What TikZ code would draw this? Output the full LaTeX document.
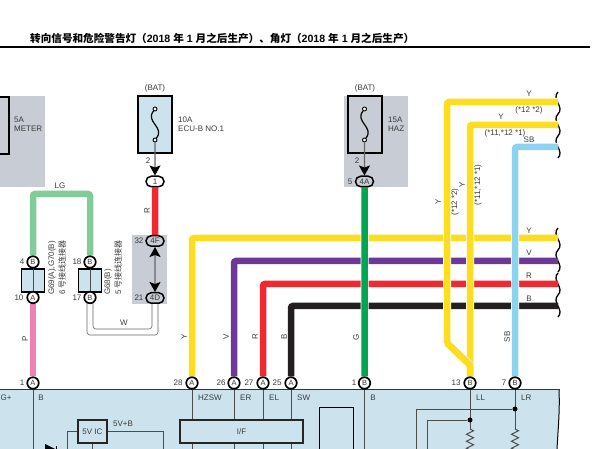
\documentclass[tikz,border=0pt]{standalone}
\usepackage{fontspec}
\usepackage{xcolor}
\usepackage{tikz}
\usetikzlibrary{arrows.meta,shapes.misc,decorations.pathmorphing}
\setmainfont{Liberation Sans}
\newfontfamily\cjk{Noto Sans CJK SC}
\definecolor{panelblue}{HTML}{CCE3EE}
\definecolor{boxgray}{HTML}{C8CCD4}
\definecolor{wireY}{HTML}{FCDD20}
\definecolor{wireV}{HTML}{6C3A96}
\definecolor{wireR}{HTML}{EE2A30}
\definecolor{wireB}{HTML}{231F20}
\definecolor{wireG}{HTML}{00A651}
\definecolor{wireP}{HTML}{EE82B0}
\definecolor{wireLG}{HTML}{82CC9A}
\definecolor{wireSB}{HTML}{8CD3F0}
\definecolor{inkgray}{HTML}{3A3A3A}
\tikzstyle{pin}=[fill=white, draw=black, shape=circle, line width=1.7pt, minimum size=11.5pt, inner sep=0pt, font=\fontsize{7.5}{8}\selectfont, text=inkgray]
\tikzstyle{pill}=[fill=white, draw=black, shape=rounded rectangle, line width=1.5pt, minimum width=18pt, minimum height=10.5pt, inner sep=0pt, font=\fontsize{8}{8}\selectfont, text=inkgray]
\tikzstyle{gray pill}=[pill, fill=boxgray]
\tikzstyle{label}=[font=\fontsize{8}{9}\selectfont, text=inkgray, inner sep=0pt]
\tikzstyle{left label}=[label, anchor=west, align=left]
\tikzstyle{up label}=[label, rotate=90]
\tikzstyle{fuse}=[draw=black, line width=1.7pt, minimum width=34pt, minimum height=57pt, inner sep=0pt]
\tikzstyle{fuse end}=[fill=white, draw=black, shape=circle, line width=0.9pt, minimum size=4pt, inner sep=0pt]
\tikzstyle{fuse wire}=[-, draw=black, line width=1.2pt]
\tikzstyle{joint}=[fill=black, shape=circle, minimum size=5pt, inner sep=0pt]
\tikzstyle{splice}=[fill=panelblue, draw=black, line width=1.7pt, minimum width=23pt, minimum height=23pt, inner sep=0pt]
\tikzstyle{ic box}=[fill=panelblue, draw=black!85, line width=1.6pt, inner sep=0pt, font=\fontsize{8}{9}\selectfont, text=inkgray]
\tikzstyle{wire}=[-, line width=6.5pt, rounded corners=2pt]
\tikzstyle{wire over}=[wire, preaction={draw=white, line width=8pt}]
\tikzstyle{trace}=[-, draw=black!70, line width=0.9pt]
\tikzstyle{thin wire}=[-, draw=black!60, line width=0.6pt, rounded corners=3pt]
\tikzstyle{fuse lead}=[draw=black!60, line width=1.2pt, -{Stealth[black, length=10pt, width=11pt, inset=2pt]}]
\tikzstyle{link}=[draw=black!60, line width=1.2pt, {Stealth[black, length=10pt, width=11pt, inset=2pt]}-{Stealth[black, length=10pt, width=11pt, inset=2pt]}]
\tikzstyle{break line}=[-, draw=black, line width=1.3pt]
\newcommand{\breakmark}[1]{\draw [style=break line] (558, #1) .. controls +(-7, 7) and +(7, -7) .. +(0, 22);}
\pgfdeclarelayer{edgelayer}
\pgfdeclarelayer{nodelayer}
\pgfsetlayers{main,edgelayer,nodelayer}
\begin{document}
\begin{tikzpicture}[x=1pt, y=-1pt]
	\useasboundingbox (0, 0) rectangle (606, 449);
	% panels
	\fill [boxgray] (0, 96) rectangle (45, 187);
	\fill [boxgray] (344, 96) rectangle (408, 187);
	\fill [boxgray] (132, 235) rectangle (167, 304);
	\fill [panelblue] (0, 390) -- (559, 390) .. controls (560, 410) and (558, 430) .. (557, 449) -- (0, 449) -- cycle;
	\draw [draw=black!80, line width=1.2pt] (0, 389.5) -- (560, 389.5);
	\draw [draw=black, line width=1pt] (559, 390) .. controls (560, 410) and (558, 430) .. (557, 449);
	\draw [draw=black, line width=2pt] (0, 47) -- (590, 47);
	\begin{pgfonlayer}{nodelayer}
		\node [anchor=west, inner sep=0pt, font=\fontsize{10.6}{11}\selectfont\bfseries] (title) at (30, 38) {{\cjk 转向信号和危险警告灯（}2018 {\cjk 年} 1 {\cjk 月之后生产）、角灯（}2018 {\cjk 年} 1 {\cjk 月之后生产）}};
		% fuses
		\node [style=fuse, anchor=north west, minimum width=20pt] (fuse5) at (-12, 96) {};
		\node [style=left label] (t5a) at (14, 124.5) {5A\\METER};
		\node [style=label] (bat10) at (155, 88) {(BAT)};
		\node [style=fuse, fill=panelblue] (fuse10) at (155, 124.5) {};
		\node [style=left label] (t10a) at (178, 124.5) {10A\\ECU-B NO.1};
		\node [style=label] (n2a) at (148, 161) {2};
		\node [style=pill] (p1) at (155, 181.5) {1};
		\node [style=label] (bat15) at (365, 88) {(BAT)};
		\node [style=fuse] (fuse15) at (365, 124.5) {};
		\node [style=left label] (t15a) at (388, 124.5) {15A\\HAZ};
		\node [style=label] (n2b) at (357, 161) {2};
		\node [style=label] (n5) at (350, 181.5) {5};
		\node [style=gray pill] (p4A) at (364.5, 181.5) {4A};
		\node [style=fuse end] (f10a) at (155, 109) {};
		\node [style=fuse end] (f10b) at (155, 140) {};
		\node [style=fuse end] (f15a) at (364.5, 109) {};
		\node [style=fuse end] (f15b) at (364.5, 140) {};
		\draw [style=fuse lead] (f10b) to (p1);
		\draw [style=fuse lead] (f15b) to (p4A);
		\draw [style=fuse wire] (f10a) .. controls (145, 122) and (165, 127) .. (f10b);
		\draw [style=fuse wire] (f15a) .. controls (354.5, 122) and (374.5, 127) .. (f15b);
		% connectors
		\node [style=gray pill] (p4F) at (155, 241) {4F};
		\node [style=gray pill] (p4D) at (155, 298) {4D};
		\node [style=label] (n32) at (139, 241) {32};
		\node [style=label] (n21) at (139, 298) {21};
		\node [style=splice] (g69) at (33, 280.5) {};
		\node [style=splice] (g68) at (90, 280.5) {};
		\draw [draw=black!70, line width=0.9pt] (g69.north) to (g69.south);
		\draw [draw=black!70, line width=0.9pt] (g68.north) to (g68.south);
		\node [style=pin] (g69t) at (33, 262) {B};
		\node [style=pin] (g69b) at (33, 297.5) {A};
		\node [style=pin] (g68t) at (90, 262) {B};
		\node [style=pin] (g68b) at (90, 297.5) {B};
		\node [style=label] (n4) at (22, 262) {4};
		\node [style=label] (n10) at (19, 297.5) {10};
		\node [style=label] (n18) at (77, 262) {18};
		\node [style=label] (n17) at (77, 297.5) {17};
		\node [style=up label, anchor=west] (g69n) at (52, 295) {G69(A),G70(B)};
		\node [style=up label, anchor=west] (g69c) at (62, 295) {6 {\cjk 号接线连接器}};
		\node [style=up label, anchor=west] (g68n) at (108, 295) {G68(B)};
		\node [style=up label, anchor=west] (g68c) at (118, 295) {5 {\cjk 号接线连接器}};
		\node [style=label] (tLG) at (60, 186) {LG};
		\node [style=label] (tW) at (124, 323) {W};
		% header pins
		\node [style=pin] (a1) at (33, 383) {A};
		\node [style=pin] (a28) at (192, 383) {A};
		\node [style=pin] (a26) at (234, 383) {A};
		\node [style=pin] (a27) at (263, 383) {A};
		\node [style=pin] (a25) at (291, 383) {A};
		\node [style=pin] (b1) at (364.5, 383) {B};
		\node [style=pin] (b13) at (470, 383) {B};
		\node [style=pin] (b7) at (515, 383) {B};
		\node [style=label] (n1a) at (22, 383) {1};
		\node [style=label] (n28) at (178, 383) {28};
		\node [style=label] (n26) at (221, 383) {26};
		\node [style=label] (n27) at (249, 383) {27};
		\node [style=label] (n25) at (277, 383) {25};
		\node [style=label] (n1b) at (354, 383) {1};
		\node [style=label] (n13) at (456, 383) {13};
		\node [style=label] (n7) at (504, 383) {7};
		% wire colours
		\node [style=up label] (tR1) at (147, 211) {R};
		\node [style=up label] (tP) at (25, 339) {P};
		\node [style=up label] (tY1) at (184, 337) {Y};
		\node [style=up label] (tV1) at (226, 337) {V};
		\node [style=up label] (tR2) at (255, 337) {R};
		\node [style=up label] (tB1) at (284, 337) {B};
		\node [style=up label] (tG) at (356, 337) {G};
		\node [style=up label] (tSB) at (507, 337) {SB};
		\node [style=label] (tY2) at (529, 231) {Y};
		\node [style=label] (tV2) at (529, 253) {V};
		\node [style=label] (tR3) at (529, 276) {R};
		\node [style=label] (tB2) at (529, 299) {B};
		\node [style=label] (tY3) at (529, 94) {Y};
		\node [style=label] (t122a) at (529, 110) {(*12 *2)};
		\node [style=label] (tY4) at (501, 117) {Y};
		\node [style=label] (t1112a) at (505, 133) {(*11,*12 *1)};
		\node [style=label] (tSB2) at (529, 140) {SB};
		\node [style=up label] (tY5) at (438, 202) {Y};
		\node [style=up label] (t122b) at (455, 202) {(*12 *2)};
		\node [style=up label] (tY6) at (462, 185) {Y};
		\node [style=up label] (t1112b) at (478, 185) {(*11,*12 *1)};
		% inside the panel
		\node [style=left label] (tG2) at (0.5, 398) {G+};
		\node [style=label] (tB3) at (41, 398) {B};
		\node [style=left label] (tHZSW) at (198, 397.5) {HZSW};
		\node [style=left label] (tER) at (240, 397.5) {ER};
		\node [style=left label] (tEL) at (269, 397.5) {EL};
		\node [style=left label] (tSW) at (297, 397.5) {SW};
		\node [style=label] (tB4) at (373, 398) {B};
		\node [style=left label] (tLL) at (476, 397.5) {LL};
		\node [style=left label] (tLR) at (521, 397.5) {LR};
		\node [style=left label] (t5VB) at (113, 423.5) {5V+B};
		\node [style=ic box, minimum width=29pt, minimum height=23pt] (ic5v) at (92.5, 431.5) {5V IC};
		\node [style=ic box, minimum width=123pt, minimum height=23pt] (ifbox) at (241.5, 431.5) {I/F};
		\node [style=joint] (jLL) at (470, 420) {};
		\node [style=joint] (jLR) at (515, 409) {};
	\end{pgfonlayer}
	\coordinate (endY) at (558, 238);
	\coordinate (endV) at (558, 261);
	\coordinate (endR) at (558, 284);
	\coordinate (endB) at (558, 306);
	\coordinate (endY1) at (558, 102);
	\coordinate (endY2) at (558, 125);
	\coordinate (endSB) at (558, 147);
	\coordinate (topLG) at (60, 194);
	\coordinate (ySplit) at (470, 365);
	\coordinate (yBend) at (447, 343);
	\coordinate (w1) at (87, 302);
	\coordinate (w2) at (87, 335);
	\coordinate (w3) at (158, 335);
	\coordinate (w4) at (158, 303);
	\coordinate (w5) at (93, 302);
	\coordinate (w6) at (93, 329);
	\coordinate (w7) at (152, 329);
	\coordinate (w8) at (152, 303);
	\coordinate (sub1) at (33, 449);
	\coordinate (sub28) at (192, 449);
	\coordinate (sub26) at (234, 449);
	\coordinate (sub27) at (263, 449);
	\coordinate (sub25) at (291, 449);
	\coordinate (subB1) at (364.5, 449);
	\coordinate (resLLa) at (470, 429);
	\coordinate (resLLb) at (470, 450);
	\coordinate (resLRa) at (515, 429);
	\coordinate (resLRb) at (515, 450);
	\coordinate (subLL) at (427, 449);
	\coordinate (subLR) at (416, 449);
	\coordinate (icL) at (67, 449);
	\coordinate (icR) at (163, 449);
	\coordinate (icD) at (92.5, 449);
	\begin{pgfonlayer}{edgelayer}
		% coloured wires
		\draw [style=wire, wireLG] (g69t) |- (topLG) -| (g68t);
		\draw [style=wire, wireP] (g69b) to (a1);
		\draw [style=wire, wireR] (p1) to (p4F);
		\draw [style=wire, wireY] (a28) |- (endY);
		\draw [style=wire, wireV] (a26) |- (endV);
		\draw [style=wire, wireR] (a27) |- (endR);
		\draw [style=wire, wireB] (a25) |- (endB);
		\draw [style=wire over, wireG] (p4A) to (b1);
		\draw [style=wire over, wireY] (b13) |- (endY2);
		\draw [style=wire over, wireY, line join=round] (ySplit) -- (yBend) |- (endY1);
		\draw [style=wire over, wireSB] (b7) |- (endSB);
		\draw [style=wire, wireY] (b13) -- (ySplit) -- (yBend);
		% thin wires
		\draw [style=thin wire] (w1) -- (w2) -- (w3) -- (w4);
		\draw [style=thin wire] (w5) -- (w6) -- (w7) -- (w8);
		\draw [style=link] (p4F) to (p4D);
		% panel traces
		\draw [style=trace] (a1) to (sub1);
		\draw [style=trace] (a28) to (sub28);
		\draw [style=trace] (a26) to (sub26);
		\draw [style=trace] (a27) to (sub27);
		\draw [style=trace] (a25) to (sub25);
		\draw [style=trace] (b1) to (subB1);
		\draw [style=trace] (b13) to (resLLa);
		\draw [style=trace] (b7) to (resLRa);
		\draw [style=trace] (jLL) -| (subLL);
		\draw [style=trace] (jLR) -| (subLR);
		\draw [style=trace] (ic5v) -| (icL);
		\draw [style=trace] (ic5v) -| (icR);
		\draw [style=trace] (ic5v) to (icD);
		\draw [style=trace, decorate, decoration={zigzag, amplitude=3.5pt, segment length=7pt}] (resLLa) to (resLLb);
		\draw [style=trace, decorate, decoration={zigzag, amplitude=3.5pt, segment length=7pt}] (resLRa) to (resLRb);
	\end{pgfonlayer}
	\draw [draw=black, line width=0.9pt] (319, 449) -- (319, 407) -- (353, 407) -- (353, 449);
	\fill [black] (45, 444) -- (55, 449) -- (45, 449) -- cycle;
	\draw [draw=black, line width=0.9pt] (56, 446) -- (56, 449);
	% broken wire ends
	\breakmark{92}
	\breakmark{114}
	\breakmark{136}
	\breakmark{228}
	\breakmark{250}
	\breakmark{273}
	\breakmark{295}
\end{tikzpicture}
\end{document}
